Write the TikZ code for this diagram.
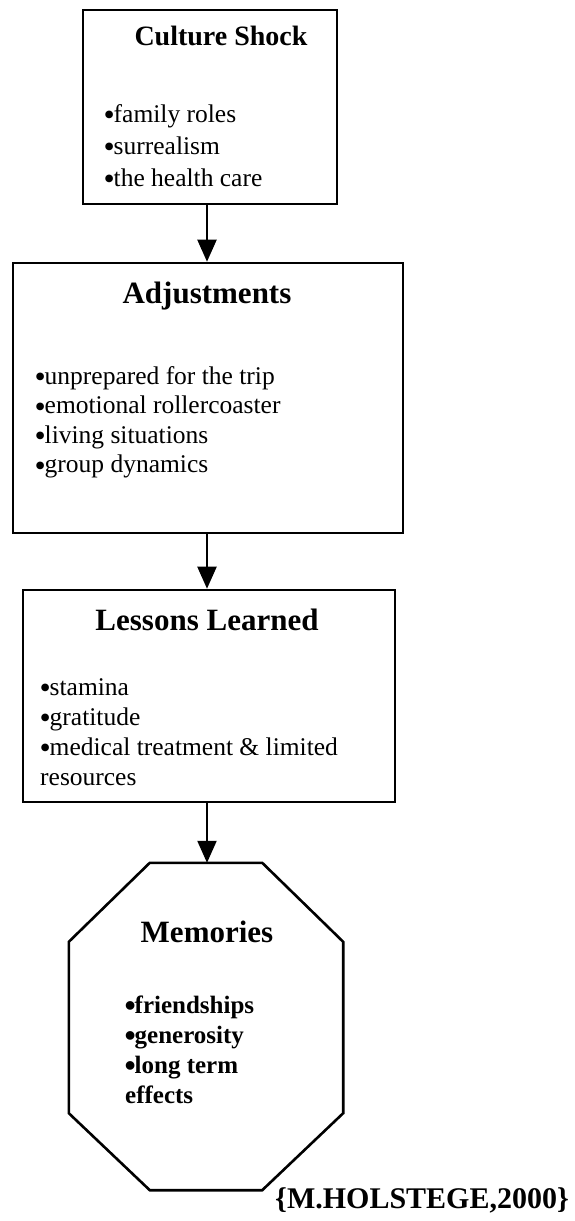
\documentclass[tikz,border=0pt]{standalone}
\usepackage{fontspec}
\setmainfont{Liberation Serif}
\usetikzlibrary{arrows.meta}
\newcommand\bl{\smash{\raisebox{-3.5pt}{\fontsize{32}{26}\selectfont\kern-0.5pt•\kern-1.2pt}}}
\begin{document}
\begin{tikzpicture}[x=1pt,y=-1pt,
  box/.style={draw, line width=2.6pt, inner sep=0pt},
  ttl/.style={font=\fontsize{31}{31}\selectfont\bfseries, anchor=base, inner sep=0pt},
  itm/.style={font=\fontsize{25.5}{25.5}\selectfont, anchor=base west, inner sep=0pt},
  itmb/.style={anchor=base west, inner sep=0pt, font=\fontsize{25}{25}\selectfont\bfseries},
  arr/.style={line width=2.2pt, -{Triangle[width=19pt,length=22pt]}}]
\useasboundingbox (0,0) rectangle (575,1221);
\coordinate (axis) at (207,0);

% Culture Shock
\node[box, minimum width=254pt, minimum height=194pt] (cs) at (210,107) {};
\node[ttl, font=\fontsize{28}{28}\selectfont\bfseries] (cst) at (221,45) {Culture Shock};
\node[itm] (cs1) at (104,122) {\bl family roles};
\node[itm] (cs2) at (104,154) {\bl surrealism};
\node[itm] (cs3) at (104,186) {\bl the health care};

% Adjustments
\node[box, minimum width=390pt, minimum height=270pt] (adj) at (208,398) {};
\node[ttl] (adjt) at (207,303) {Adjustments};
\node[itm] (adj1) at (35,384) {\bl unprepared for the trip};
\node[itm] (adj2) at (35,413.5) {\bl emotional rollercoaster};
\node[itm] (adj3) at (35,443) {\bl living situations};
\node[itm] (adj4) at (35,472.5) {\bl group dynamics};

% Lessons Learned
\node[box, minimum width=372pt, minimum height=212pt] (ll) at (209,696) {};
\node[ttl] (llt) at (207,630) {Lessons Learned};
\node[itm] (ll1) at (40,695) {\bl stamina};
\node[itm] (ll2) at (40,725) {\bl gratitude};
\node[itm] (ll3) at (40,755) {\bl medical treatment \& limited};
\node[itm] (ll4) at (40,785) {resources};

% Memories (octagon)
\node[inner sep=0pt, minimum width=274pt, minimum height=327pt] (mem) at (206,1026.5) {};
\draw[line width=2.6pt, line join=miter]
  ([xshift=81pt]mem.north west) -- ([xshift=-81pt]mem.north east)
  -- ([yshift=-79pt]mem.north east) -- ([yshift=77pt]mem.south east)
  -- ([xshift=-81pt]mem.south east) -- ([xshift=81pt]mem.south west)
  -- ([yshift=77pt]mem.south west) -- ([yshift=-79pt]mem.north west) -- cycle;
\node[ttl] (memt) at (207,942) {Memories};
\node[itmb] (mem1) at (125,1013) {\bl friendships};
\node[itmb] (mem2) at (125,1043) {\bl generosity};
\node[itmb] (mem3) at (125,1073) {\bl long term};
\node[itmb] (mem4) at (125,1103) {effects};

% citation
\node[anchor=base west, inner sep=0pt, font=\fontsize{30}{30}\selectfont\bfseries] (cite) at (275,1208) {\{M.HOLSTEGE,2000\}};

% connectors
\draw[arr] (cs.south -| axis) -- (adj.north -| axis);
\draw[arr] (adj.south -| axis) -- (ll.north -| axis);
\draw[arr] (ll.south -| axis) -- (mem.north -| axis);
\end{tikzpicture}
\end{document}
